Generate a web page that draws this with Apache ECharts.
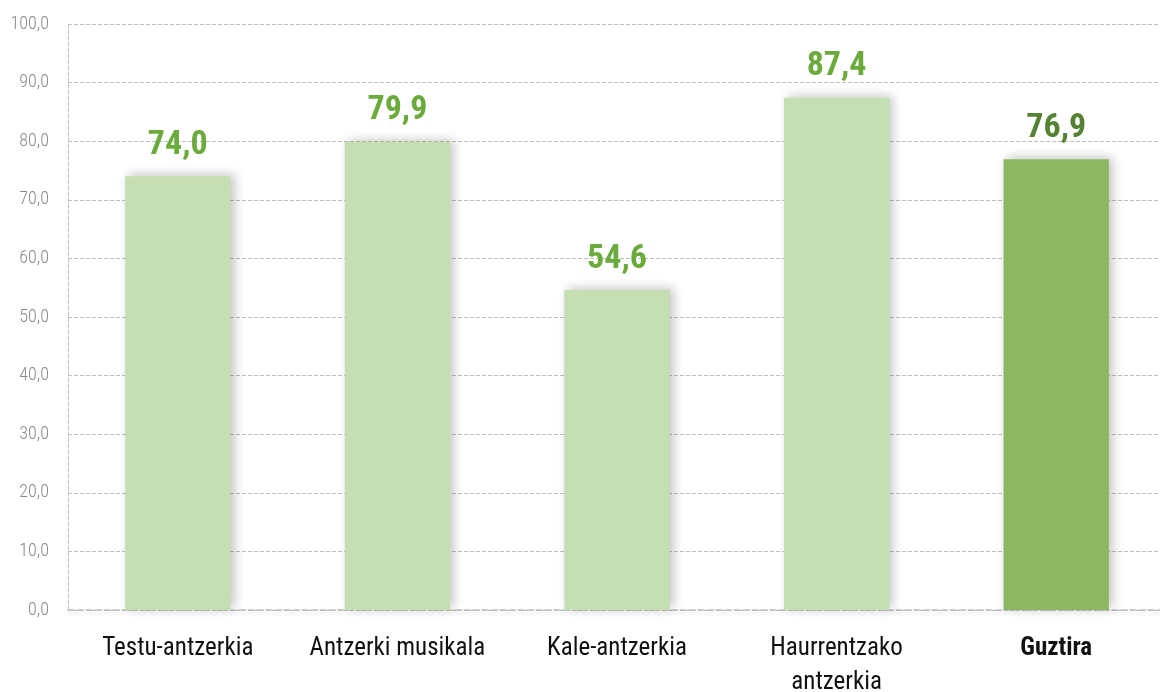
<!DOCTYPE html>
<html>
<head>
<meta charset="utf-8">
<script src="https://cdn.jsdelivr.net/npm/echarts@6/dist/echarts.min.js"></script>
<style>
  html, body { margin: 0; padding: 0; background: #fff; }
  #chart { width: 1160px; height: 692px; }
</style>
</head>
<body>
<div id="chart"></div>
<script>
const categories = ['Testu-antzerkia', 'Antzerki musikala', 'Kale-antzerkia', 'Haurrentzako\nantzerkia', 'Guztira'];
const values = [74.0, 79.9, 54.6, 87.4, 76.9];
const barColors = ['#c5dfb3', '#c5dfb3', '#c5dfb3', '#c5dfb3', '#8fb663'];
const labelColors = ['#6aab3c', '#6aab3c', '#6aab3c', '#6aab3c', '#548233'];

const condensed = '"Roboto Condensed", "Liberation Sans Narrow", "DejaVu Sans Condensed", Roboto, sans-serif';
const comma = v => v.toFixed(1).replace('.', ',');

let chart = echarts.init(document.getElementById('chart'));
let option = {
    animation: false,
    grid: { left: 68, width: 1098, top: 24, height: 586, outerBoundsMode: 'none', containLabel: false },
    xAxis: {
        type: 'category',
        data: categories,
        axisLine: { show: true, lineStyle: { color: '#bfbfbf', type: 'dashed', width: 1.5,
            shadowColor: 'rgba(0,0,0,0.15)', shadowBlur: 4, shadowOffsetY: 3 } },
        axisTick: { show: false },
        axisLabel: {
            interval: 0,
            hideOverlap: false,
            color: '#111',
            fontFamily: condensed,
            fontSize: 25,
            margin: 22,
            lineHeight: 34,
            formatter: (v) => v === 'Guztira' ? '{b|' + v + '}' : v,
            rich: { b: { fontWeight: 'bold', fontSize: 25, lineHeight: 34, fontFamily: condensed, color: '#111' } }
        }
    },
    yAxis: {
        type: 'value',
        min: 0,
        max: 100,
        interval: 10,
        axisLine: { show: true, lineStyle: { color: '#bfbfbf', type: 'dashed' } },
        axisTick: { show: false },
        splitLine: { lineStyle: { color: '#bfbfbf', type: 'dashed' } },
        axisLabel: {
            color: '#8a8a8a',
            fontFamily: condensed,
            fontWeight: 300,
            fontSize: 18,
            margin: 19,
            formatter: comma
        }
    },
    series: [{
        type: 'bar',
        barWidth: '48%',
        data: values.map((v, i) => ({
            value: v,
            itemStyle: { color: barColors[i] },
            label: { color: labelColors[i] }
        })),
        itemStyle: {
            shadowColor: 'rgba(0,0,0,0.22)',
            shadowBlur: 10,
            shadowOffsetX: 4,
            shadowOffsetY: -2
        },
        label: {
            show: true,
            position: 'top',
            distance: 14,
            fontFamily: condensed,
            fontWeight: 'bold',
            fontSize: 34,
            formatter: (p) => comma(p.value)
        }
    }]
};
chart.setOption(option);
</script>
</body>
</html>
